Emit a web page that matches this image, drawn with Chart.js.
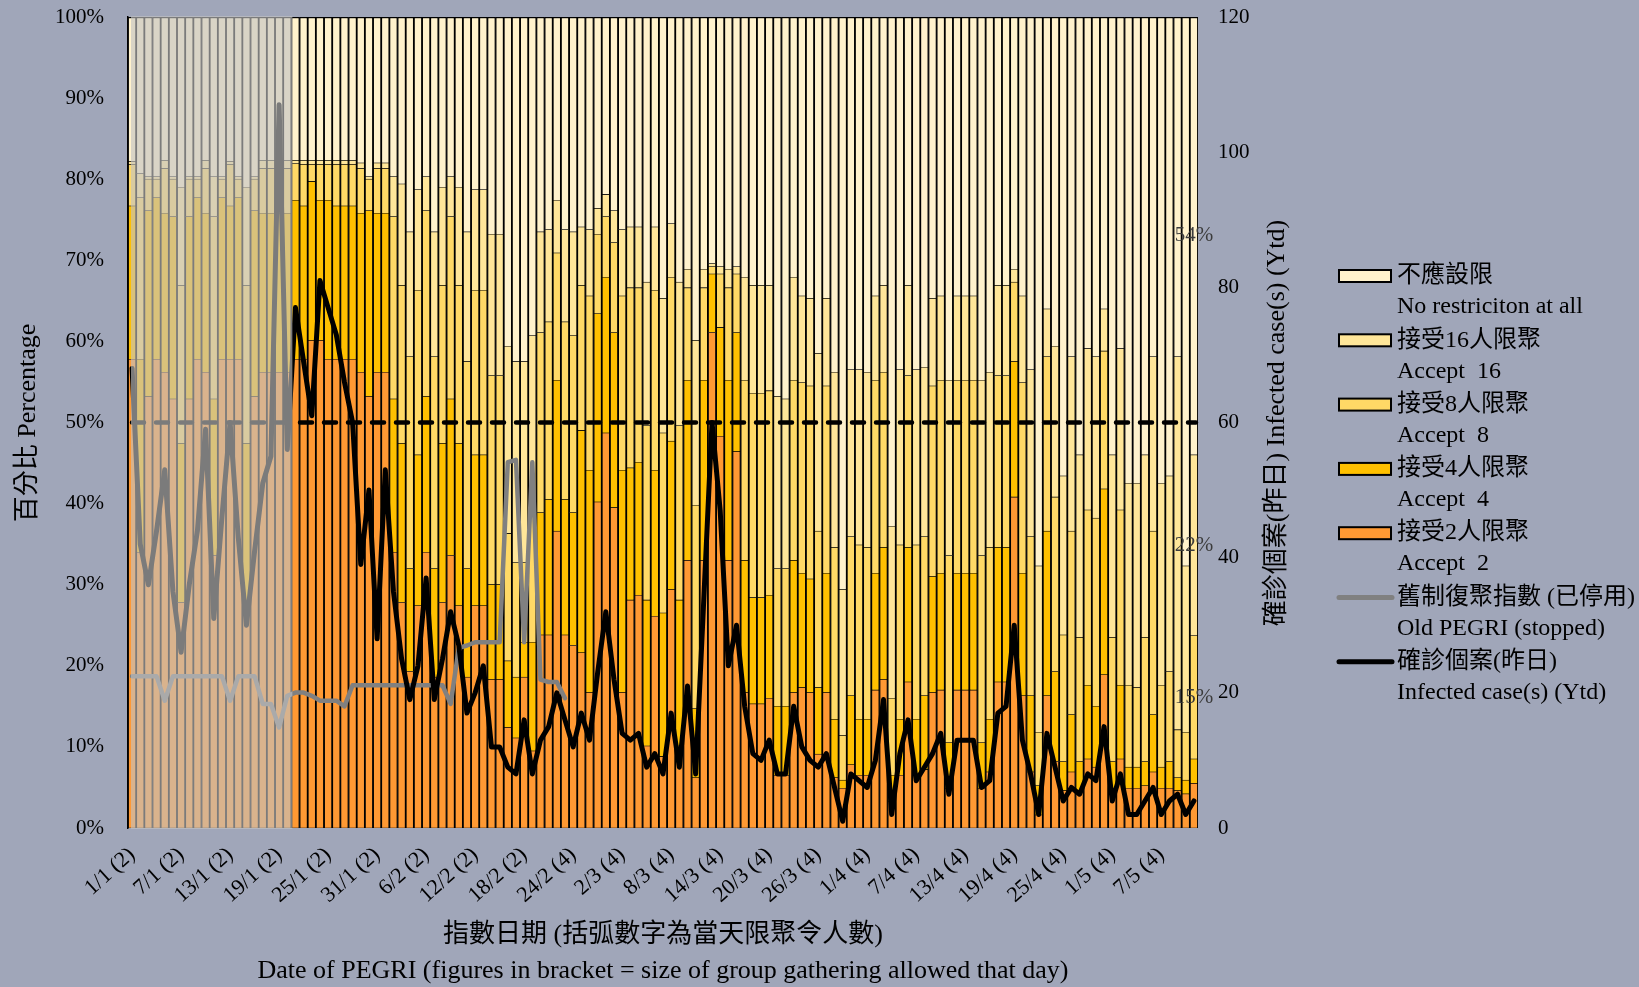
<!DOCTYPE html>
<html>
<head>
<meta charset="utf-8">
<script src="https://cdn.jsdelivr.net/npm/chart.js@4.4.0/dist/chart.umd.min.js"></script>
<style>
  html, body { margin: 0; padding: 0; background: #a0a6b9; }
  canvas { display: block; }
</style>
</head>
<body>
<canvas id="pegriChart" width="1639" height="987"></canvas>
<script>
// One bar per day, 1 Jan - 11 May
const days = [
  '1/1','2/1','3/1','4/1','5/1','6/1','7/1','8/1','9/1','10/1','11/1','12/1','13/1','14/1','15/1','16/1',
  '17/1','18/1','19/1','20/1','21/1','22/1','23/1','24/1','25/1','26/1','27/1','28/1','29/1','30/1','31/1',
  '1/2','2/2','3/2','4/2','5/2','6/2','7/2','8/2','9/2','10/2','11/2','12/2','13/2','14/2',
  '15/2','16/2','17/2','18/2','19/2','20/2','21/2','22/2','23/2','24/2','25/2','26/2','27/2','28/2',
  '1/3','2/3','3/3','4/3','5/3','6/3','7/3','8/3','9/3','10/3','11/3','12/3','13/3','14/3','15/3','16/3',
  '17/3','18/3','19/3','20/3','21/3','22/3','23/3','24/3','25/3','26/3','27/3','28/3','29/3','30/3','31/3',
  '1/4','2/4','3/4','4/4','5/4','6/4','7/4','8/4','9/4','10/4','11/4','12/4','13/4','14/4','15/4',
  '16/4','17/4','18/4','19/4','20/4','21/4','22/4','23/4','24/4','25/4','26/4','27/4','28/4','29/4','30/4',
  '1/5','2/5','3/5','4/5','5/5','6/5','7/5','8/5','9/5','10/5','11/5'
];

// Tick labels shown every 6th day (group size allowed that day in brackets)
const tickLabels = [
  '1/1 (2)', '7/1 (2)', '13/1 (2)', '19/1 (2)', '25/1 (2)', '31/1 (2)', '6/2 (2)', '12/2 (2)',
  '18/2 (2)', '24/2 (4)', '2/3 (4)', '8/3 (4)', '14/3 (4)', '20/3 (4)', '26/3 (4)', '1/4 (4)',
  '7/4 (4)', '13/4 (4)', '19/4 (4)', '25/4 (4)', '1/5 (4)', '7/5 (4)'
];
const tickEvery = 6;

// Cumulative share (%) at the top of each band
const cum2 = [ // top of "Accept 2"
  57.8, 34.0, 53.2, 57.8, 56.2, 52.9, 27.8, 52.9, 57.8, 56.2,
  33.6, 57.8, 57.8, 57.8, 27.8, 53.2, 56.2, 56.2, 56.2, 56.2,
  57.8, 57.8, 60.1, 60.1, 57.8, 57.8, 57.8, 57.8, 56.2, 53.2,
  56.2, 56.2, 34.0, 27.8, 19.3, 27.4, 34.0, 18.6, 27.8, 33.6,
  27.4, 18.6, 27.4, 27.4, 18.3, 18.3, 12.4, 11.1, 18.6, 9.5,
  23.8, 23.8, 36.6, 23.8, 22.5, 21.6, 16.7, 40.2, 48.7, 39.5,
  16.7, 28.1, 28.7, 10.1, 26.1, 8.8, 29.4, 10.1, 33.0, 6.2,
  33.0, 61.1, 48.3, 33.0, 46.4, 16.7, 15.3, 15.3, 16.0, 6.5,
  6.5, 16.7, 17.3, 16.7, 9.1, 16.7, 6.2, 4.9, 7.8, 6.5,
  6.5, 17.0, 18.3, 3.3, 6.5, 18.0, 6.5, 7.2, 16.7, 17.0,
  4.9, 17.0, 17.0, 17.0, 4.9, 6.9, 18.0, 18.0, 40.8, 16.3,
  6.9, 1.6, 16.3, 8.2, 4.6, 6.9, 4.6, 8.5, 7.5, 18.9,
  4.9, 8.5, 4.9, 4.9, 5.2, 6.9, 4.9, 4.9, 4.6, 4.2,
  5.5
];
const cum4 = [ // top of "Accept 4"
  76.7, 57.8, 76.1, 77.7, 75.8, 75.4, 47.4, 75.4, 77.7, 75.8,
  52.9, 77.7, 76.7, 77.7, 47.4, 76.1, 75.8, 75.8, 75.8, 75.8,
  77.4, 76.7, 79.7, 77.4, 77.4, 76.7, 76.7, 76.7, 75.8, 76.1,
  75.8, 75.8, 52.9, 47.4, 32.0, 46.0, 53.2, 32.0, 47.4, 52.9,
  47.4, 32.0, 46.0, 46.0, 30.0, 30.0, 20.6, 18.6, 22.9, 22.9,
  38.9, 40.5, 55.2, 40.5, 38.9, 49.0, 44.1, 63.4, 67.9, 61.1,
  44.1, 44.4, 45.1, 28.1, 44.1, 26.5, 47.7, 28.1, 55.2, 14.7,
  55.2, 68.3, 61.7, 55.2, 61.1, 33.0, 28.4, 28.4, 28.7, 15.0,
  15.0, 33.0, 31.4, 30.7, 17.3, 31.4, 13.4, 5.9, 16.3, 13.4,
  13.4, 31.4, 34.6, 6.5, 13.4, 34.6, 13.4, 16.3, 31.0, 31.4,
  10.5, 31.4, 31.4, 31.4, 10.5, 13.4, 34.6, 34.6, 57.5, 31.4,
  16.3, 5.2, 36.6, 19.3, 8.2, 14.0, 8.2, 17.6, 15.0, 41.8,
  8.2, 17.6, 7.5, 7.5, 8.2, 14.0, 7.5, 8.2, 6.2, 5.9,
  8.5
];
const cum8 = [ // top of "Accept 8"
  81.8, 77.7, 80.0, 80.0, 81.3, 80.0, 66.9, 80.0, 80.0, 81.3,
  75.4, 80.0, 81.8, 80.0, 66.9, 80.0, 81.3, 81.3, 81.3, 81.3,
  81.9, 81.8, 81.8, 81.8, 81.8, 81.8, 81.8, 81.8, 81.3, 80.0,
  81.3, 81.3, 75.4, 66.9, 58.1, 66.3, 76.1, 58.1, 66.9, 75.4,
  66.9, 57.5, 66.3, 66.3, 55.8, 55.8, 36.3, 32.7, 32.7, 38.9,
  61.1, 62.4, 70.9, 62.4, 60.7, 66.9, 65.6, 73.2, 75.4, 72.2,
  65.6, 66.6, 66.6, 49.6, 66.3, 48.7, 67.9, 49.6, 66.6, 39.8,
  66.6, 69.2, 68.3, 66.6, 68.3, 55.2, 53.6, 53.6, 53.9, 32.0,
  32.0, 55.2, 54.9, 54.5, 36.6, 54.5, 34.6, 11.4, 35.9, 34.9,
  34.6, 55.2, 56.2, 16.0, 34.9, 55.8, 34.9, 35.9, 54.5, 55.2,
  33.6, 55.2, 55.2, 55.2, 33.6, 34.6, 55.8, 55.8, 67.3, 54.9,
  35.9, 11.8, 58.1, 40.8, 23.8, 36.6, 23.5, 39.2, 38.2, 58.8,
  23.5, 39.2, 17.6, 17.3, 23.5, 36.6, 17.6, 19.3, 12.1, 11.8,
  23.7
];
const cum16 = [ // top of "Accept 16" (the rest up to 100% is "No restriction")
  82.2, 80.7, 80.3, 80.3, 82.3, 80.3, 79.0, 80.3, 80.3, 82.3,
  80.3, 80.3, 82.2, 80.3, 79.0, 80.3, 82.3, 82.3, 82.3, 82.3,
  82.3, 82.3, 82.3, 82.3, 82.3, 82.3, 82.3, 82.3, 82.0, 80.3,
  82.0, 82.0, 80.3, 79.4, 73.5, 78.7, 80.3, 73.5, 79.0, 80.3,
  79.0, 73.5, 78.7, 78.7, 73.2, 73.2, 59.4, 57.5, 57.5, 60.7,
  73.5, 73.8, 77.4, 73.8, 73.5, 74.1, 73.8, 76.4, 78.1, 76.1,
  73.8, 74.1, 74.1, 67.3, 74.1, 65.3, 74.5, 67.3, 68.9, 60.1,
  68.9, 69.6, 69.2, 68.9, 69.2, 67.9, 66.9, 66.9, 66.9, 53.2,
  52.9, 67.9, 65.6, 65.3, 58.5, 65.3, 56.2, 29.4, 56.5, 56.5,
  56.2, 65.6, 66.9, 37.2, 56.5, 66.9, 56.5, 56.8, 65.3, 65.6,
  55.2, 65.6, 65.6, 65.6, 55.2, 56.2, 66.9, 66.9, 68.9, 65.6,
  56.5, 32.3, 64.0, 59.4, 43.4, 58.1, 46.0, 59.1, 58.1, 64.0,
  46.0, 59.1, 42.5, 42.5, 46.0, 58.1, 42.5, 43.4, 58.1, 32.3,
  46.0
];

// Old PEGRI (left axis, %), stopped on 23/2
const oldPegri = [
  18.7, 18.7, 18.7, 18.7, 15.7, 18.7, 18.7, 18.7, 18.7, 18.7,
  18.7, 18.7, 15.7, 18.7, 18.7, 18.7, 15.3, 15.3, 12.4, 16.3,
  16.7, 16.7, 16.3, 15.7, 15.7, 15.7, 15.0, 17.6, 17.6, 17.6,
  17.6, 17.6, 17.6, 17.6, 17.6, 17.6, 17.6, 17.6, 17.6, 15.3,
  22.2, 22.5, 22.9, 22.9, 22.9, 22.9, 45.1, 45.4, 22.9, 45.1,
  18.3, 18.0, 18.0, 16.0
];

// Infected cases of the previous day (right axis)
const cases = [
  68, 42, 36, 44, 53, 35, 26, 36, 44, 59,
  31, 46, 60, 43, 30, 41, 51, 55, 107, 56,
  77, 69, 61, 81, 77, 73, 66, 60, 39, 50,
  28, 53, 35, 25, 19, 24, 37, 19, 25, 32,
  27, 17, 20, 24, 12, 12, 9, 8, 16, 8,
  13, 15, 20, 16, 12, 17, 13, 23, 32, 22,
  14, 13, 14, 9, 11, 8, 17, 9, 21, 8,
  34, 60, 47, 24, 30, 18, 11, 10, 13, 8,
  8, 18, 12, 10, 9, 11, 6, 1, 8, 7,
  6, 10, 19, 2, 11, 16, 7, 9, 11, 14,
  5, 13, 13, 13, 6, 7, 17, 18, 30, 13,
  8, 2, 14, 9, 4, 6, 5, 8, 7, 15,
  4, 8, 2, 2, 4, 6, 2, 4, 5, 2,
  4
];

const thresholdPct = 50;   // dashed reference line
const shadedDays = 20;     // first days greyed out

const col2 = '#ff9933';
const col4 = '#ffc000';
const col8 = '#ffd966';
const col16 = '#ffe699';
const colNone = '#fff2cc';

const SERIF = '"Liberation Serif", "Noto Sans CJK TC", serif';

const legendItems = [
  { zh: '不應設限', en: 'No restriciton at all', color: colNone, kind: 'box' },
  { zh: '接受16人限聚', en: 'Accept  16', color: col16, kind: 'box' },
  { zh: '接受8人限聚', en: 'Accept  8', color: col8, kind: 'box' },
  { zh: '接受4人限聚', en: 'Accept  4', color: col4, kind: 'box' },
  { zh: '接受2人限聚', en: 'Accept  2', color: col2, kind: 'box' },
  { zh: '舊制復聚指數 (已停用)', en: 'Old PEGRI (stopped)', color: '#808080', kind: 'line' },
  { zh: '確診個案(昨日)', en: 'Infected case(s) (Ytd)', color: '#000000', kind: 'line' }
];

function band(color, lows, highs, top) {
  return {
    type: 'bar',
    data: highs.map((h, i) => [lows ? lows[i] : 0, h]),
    backgroundColor: color,
    borderColor: '#000',
    borderWidth: { left: 1.25, right: 1.25, top: top || 0.6, bottom: 0.6 },
    borderSkipped: false,
    grouped: false,
    barPercentage: 1,
    categoryPercentage: 1,
    yAxisID: 'y',
    order: 2
  };
}

// keep tick padding from pushing the plot area down
function noEdgePadding(scale) {
  scale.paddingTop = 0;
  scale.paddingBottom = 0;
}

const decorations = {
  id: 'decorations',
  beforeDatasetDraw(chart, args) {
    // dashed 50% line goes above the bars, below the two lines
    if (args.index !== 1) return;
    const { ctx, chartArea } = chart;
    const y = chart.scales.y.getPixelForValue(thresholdPct);
    ctx.save();
    ctx.strokeStyle = '#000';
    ctx.lineWidth = 4.5;
    ctx.lineCap = 'round';
    ctx.setLineDash([12, 12]);
    ctx.beginPath();
    ctx.moveTo(chartArea.left + 4, y);
    ctx.lineTo(chartArea.right - 2, y);
    ctx.stroke();
    ctx.restore();
  },
  afterDatasetsDraw(chart) {
    const { ctx, chartArea } = chart;
    const xs = chart.scales.x;
    const half = (xs.getPixelForValue(1) - xs.getPixelForValue(0)) / 2;

    // grey veil over the first period
    const x0 = xs.getPixelForValue(0) - half + 3;
    const x1 = xs.getPixelForValue(shadedDays - 1) + half + 1;
    ctx.save();
    ctx.fillStyle = 'rgba(195,195,195,0.63)';
    ctx.fillRect(x0, chartArea.top - 1, x1 - x0, chartArea.height + 2);

    // share labels on the last bar
    const last = days.length - 1;
    const ys = chart.scales.y;
    const cx = xs.getPixelForValue(last);
    const marks = [
      [100 - cum16[last], (cum16[last] + 100) / 2],
      [cum16[last] - cum8[last], (cum8[last] + cum16[last]) / 2],
      [cum8[last] - cum4[last], (cum4[last] + cum8[last]) / 2]
    ];
    ctx.font = '21px ' + SERIF;
    ctx.fillStyle = '#3c3c3c';
    ctx.textAlign = 'center';
    ctx.textBaseline = 'middle';
    marks.forEach(([share, mid]) => {
      ctx.fillText(Math.round(share) + '%', cx, ys.getPixelForValue(mid));
    });
    ctx.restore();
  },
  afterDraw(chart) {
    const { ctx, chartArea } = chart;
    ctx.save();
    ctx.fillStyle = '#000';
    ctx.font = '26px ' + SERIF;
    ctx.textAlign = 'center';
    ctx.textBaseline = 'middle';

    // axis titles
    const midY = 423;
    ctx.save();
    ctx.translate(28, midY);
    ctx.rotate(-Math.PI / 2);
    ctx.fillText('百分比 Percentage', 0, 0);
    ctx.restore();
    ctx.save();
    ctx.translate(1277, midY);
    ctx.rotate(-Math.PI / 2);
    ctx.fillText('確診個案(昨日) Infected case(s) (Ytd)', 0, 0);
    ctx.restore();
    const cx = (chartArea.left + chartArea.right) / 2;
    ctx.fillText('指數日期 (括弧數字為當天限聚令人數)', cx, 935);
    ctx.fillText('Date of PEGRI (figures in bracket = size of group gathering allowed that day)', cx, 971);

    // legend
    ctx.textAlign = 'left';
    ctx.font = '24px ' + SERIF;
    legendItems.forEach((item, i) => {
      const y = 276 + i * 64.3;
      if (item.kind === 'box') {
        ctx.fillStyle = item.color;
        ctx.fillRect(1339, y - 6, 52, 12);
        ctx.strokeStyle = '#000';
        ctx.lineWidth = 2;
        ctx.strokeRect(1339, y - 6, 52, 12);
      } else {
        ctx.strokeStyle = item.color;
        ctx.lineWidth = 5;
        ctx.lineCap = 'round';
        ctx.beginPath();
        ctx.moveTo(1339, y);
        ctx.lineTo(1392, y);
        ctx.stroke();
      }
      ctx.fillStyle = '#000';
      ctx.fillText(item.zh, 1397, y);
      ctx.fillText(item.en, 1397, y + 31);
    });
    ctx.restore();
  }
};

const ctx = document.getElementById('pegriChart').getContext('2d');
const pegriChart = new Chart(ctx, {
  type: 'bar',
  data: {
    labels: days,
    datasets: [
      {
        type: 'line',
        label: 'Infected case(s) (Ytd)',
        data: cases,
        yAxisID: 'y2',
        borderColor: '#000',
        borderWidth: 5,
        pointRadius: 0,
        tension: 0,
        borderJoinStyle: 'round',
        borderCapStyle: 'round',
        order: 0
      },
      {
        type: 'line',
        label: 'Old PEGRI (stopped)',
        data: oldPegri,
        yAxisID: 'y',
        borderColor: '#808080',
        borderWidth: 4.5,
        pointRadius: 0,
        tension: 0,
        borderJoinStyle: 'round',
        borderCapStyle: 'round',
        order: 1
      },
      band(col2, null, cum2),
      band(col4, cum2, cum4),
      band(col8, cum4, cum8),
      band(col16, cum8, cum16),
      band(colNone, cum16, cum16.map(() => 100), 1.5)
    ]
  },
  options: {
    responsive: false,
    animation: false,
    layout: { padding: { left: 0, top: 17, right: 381, bottom: 0 } },
    plugins: {
      legend: { display: false },
      tooltip: { enabled: false }
    },
    scales: {
      x: {
        grid: { display: false, drawTicks: false },
        border: { display: false },
        ticks: {
          autoSkip: false,
          minRotation: 42,
          maxRotation: 42,
          padding: 14,
          color: '#000',
          font: { family: SERIF, size: 22 },
          callback: (value, index) => (index % tickEvery === 0 ? tickLabels[index / tickEvery] : '')
        },
        afterFit: (scale) => { scale.height = 159; }
      },
      y: {
        position: 'left',
        min: 0,
        max: 100,
        grid: { display: false, drawTicks: false },
        border: { display: true, color: '#000', width: 1.5 },
        ticks: {
          stepSize: 10,
          padding: 24,
          color: '#000',
          font: { family: SERIF, size: 21 },
          callback: (v) => v + '%'
        },
        afterFit: (scale) => { scale.width = 128; noEdgePadding(scale); }
      },
      y2: {
        position: 'right',
        min: 0,
        max: 120,
        grid: { display: false, drawTicks: false },
        border: { display: false },
        ticks: {
          stepSize: 20,
          padding: 20,
          color: '#000',
          font: { family: SERIF, size: 21 }
        },
        afterFit: (scale) => { scale.width = 60; noEdgePadding(scale); }
      }
    }
  },
  plugins: [decorations]
});
</script>
</body>
</html>
